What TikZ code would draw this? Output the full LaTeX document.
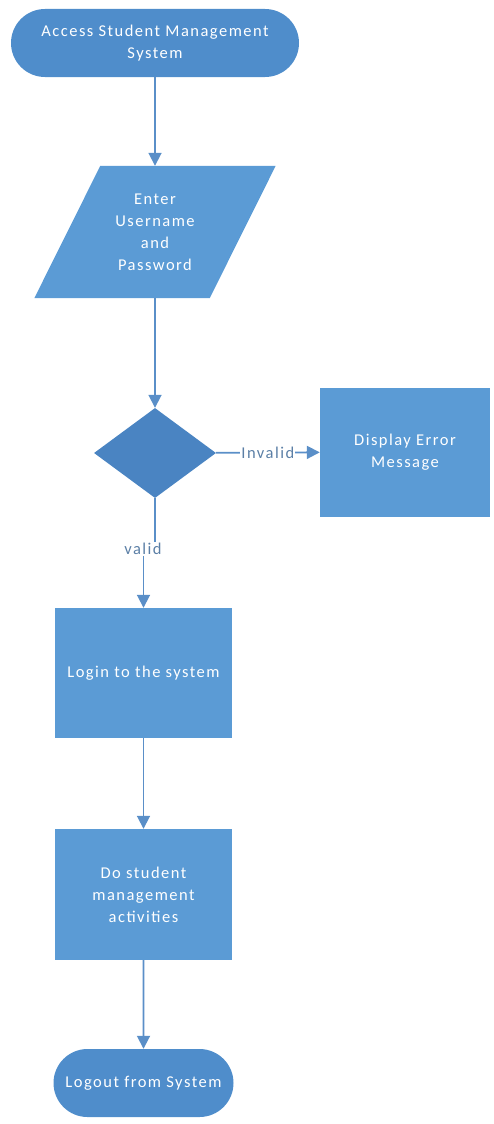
\documentclass[tikz,border=0pt]{standalone}
\usepackage{fontspec}
\setmainfont[LetterSpace=9]{Carlito}
\usetikzlibrary{shapes.geometric,shapes.misc,arrows.meta,backgrounds}
\definecolor{boxblue}{HTML}{5B9BD5}
\definecolor{termblue}{HTML}{4F8DCB}
\definecolor{decblue}{HTML}{4A84C2}
\definecolor{lineblue}{HTML}{5A8FC8}
\definecolor{labelgray}{HTML}{5B7FA6}

\begin{document}
\begin{tikzpicture}[x=1pt,y=-1pt,font=\fontsize{16.5}{22}\selectfont,
    every node/.style={text=white},
    terminal/.style={rounded rectangle,fill=termblue,minimum height=68pt,inner sep=0pt,align=center},
    iobox/.style={rectangle,minimum width=175pt,minimum height=132pt,inner sep=0pt,align=center},
    process/.style={rectangle,fill=boxblue,minimum width=177pt,minimum height=130pt,align=center},
    decision/.style={diamond,fill=decblue,minimum width=122pt,minimum height=90pt,inner sep=0pt},
    flow/.style={lineblue,line width=1.8pt,-{Triangle[width=13pt,length=13pt]}},
    flowline/.style={lineblue,line width=1.8pt},
    edgelabel/.style={text=labelgray,fill=white,inner sep=1pt}]
    \path[use as bounding box] (0,0) rectangle (493,1124);
    \node[terminal,minimum width=288pt] (start) at (155,43) {Access Student Management\\System};
    \node[iobox] (input) at (155,232) {Enter\\Username\\and\\Password};
    \node[decision] (check) at (155,453) {};
    \node[process,minimum width=170pt,minimum height=129pt] (error) at (405,452) {Display Error\\Message};
    \node[process] (login) at (143.5,673) {Login to the system};
    \node[process,minimum height=131pt] (activity) at (143.5,894.5) {Do student\\management\\activities};
    \node[terminal,minimum width=180pt] (logout) at (143.5,1083) {Logout from System};
    \node[edgelabel] (valid) at (143,549) {valid};
    \begin{scope}[on background layer]
      \fill[boxblue] ([xshift=33pt]input.north west) -- ([xshift=33pt]input.north east)
        -- ([xshift=-33pt]input.south east) -- ([xshift=-33pt]input.south west) -- cycle;
    \end{scope}
    \draw[flow] (start) -- (input);
    \draw[flow] (input) -- (check);
    \draw[flow] (check) -- node[edgelabel] (invalid) {Invalid} (error);
    \draw[flowline] (check.south) -- (check.south |- valid.north);
    \draw[flow] (valid.south -| login.north) -- (login.north);
    \draw[flow] (login) -- (activity);
    \draw[flow] (activity) -- (logout);
  \end{tikzpicture}
\end{document}
